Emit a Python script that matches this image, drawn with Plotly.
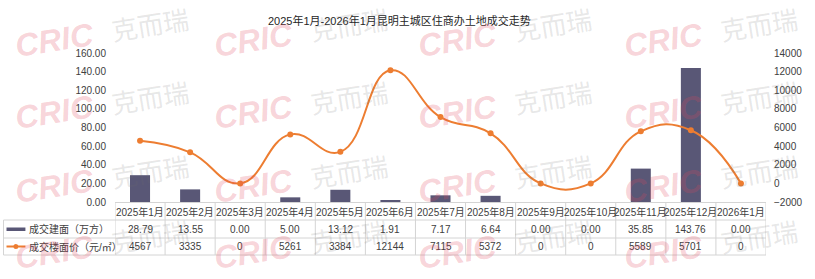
import plotly.graph_objects as go

# ---------------- data ----------------
months = ["2025年1月", "2025年2月", "2025年3月", "2025年4月", "2025年5月", "2025年6月",
          "2025年7月", "2025年8月", "2025年9月", "2025年10月", "2025年11月", "2025年12月", "2026年1月"]
area_values = [28.79, 13.55, 0.00, 5.00, 13.12, 1.91, 7.17, 6.64, 0.00, 0.00, 35.85, 143.76, 0.00]
price_values = [4567, 3335, 0, 5261, 3384, 12144, 7115, 5372, 0, 0, 5589, 5701, 0]
series_names = ["成交建面（万方）", "成交楼面价（元/㎡）"]
title_text = "2025年1月-2026年1月昆明主城区住商办土地成交走势"

# ---------------- layout constants ----------------
W, H = 815, 279
L, R = 115, 769          # plot area x (pixels)
T, B = 53, 202           # plot area y (pixels)
BAR_COLOR = "#595776"
LINE_COLOR = "#ED7D31"
GRID_COLOR = "#D4D4D4"
TEXT_COLOR = "#404040"
FONT = "Liberation Sans, Noto Sans CJK SC, sans-serif"


def px(xp):
    return (xp - L) / (R - L)


def py(yp):
    return (B - yp) / (B - T)


fig = go.Figure()
fig.add_trace(go.Bar(x=list(range(len(months))), y=area_values, name=series_names[0],
                     marker=dict(color=BAR_COLOR, line=dict(width=0)), yaxis="y"))
fig.add_trace(go.Scatter(x=list(range(len(months))), y=price_values, name=series_names[1],
                         mode="lines+markers", yaxis="y2",
                         line=dict(color=LINE_COLOR, width=2, shape="spline", smoothing=1.3),
                         marker=dict(color=LINE_COLOR, size=6)))

shapes = []
annotations = []

# table rows (pixel y)
row_header = (B, 220)
row1 = (220, 238)
row2 = (238, 255)

line_style = dict(color=GRID_COLOR, width=1)
# vertical lines at category boundaries
for i in range(len(months) + 1):
    shapes.append(dict(type="line", xref="x", yref="paper", x0=i - 0.5, x1=i - 0.5,
                       y0=py(B), y1=py(row2[1]), line=line_style))
# horizontal lines
for yy in (row1[0], row2[0], row2[1]):
    shapes.append(dict(type="line", xref="paper", yref="paper", x0=px(3), x1=1,
                       y0=py(yy), y1=py(yy), line=line_style))
# left border
shapes.append(dict(type="line", xref="paper", yref="paper", x0=px(3), x1=px(3),
                   y0=py(row1[0]), y1=py(row2[1]), line=line_style))

# legend keys in the table
shapes.append(dict(type="rect", xref="paper", yref="paper", x0=px(6), x1=px(25),
                   y0=py(231), y1=py(227.5), fillcolor=BAR_COLOR, line=dict(width=0)))
shapes.append(dict(type="line", xref="paper", yref="paper", x0=px(6), x1=px(25),
                   y0=py(246.5), y1=py(246.5), line=dict(color=LINE_COLOR, width=2)))
shapes.append(dict(type="circle", xref="paper", yref="paper", x0=px(13), x1=px(18),
                   y0=py(249), y1=py(244), fillcolor=LINE_COLOR, line=dict(width=0)))

tfont = dict(family=FONT, size=10, color=TEXT_COLOR)
for i, m in enumerate(months):
    annotations.append(dict(x=i, y=py((row_header[0] + row_header[1]) / 2 + 0.5), xref="x", yref="paper",
                            text=m, showarrow=False, font=tfont, xanchor="center", yanchor="middle"))
    annotations.append(dict(x=i, y=py((row1[0] + row1[1]) / 2), xref="x", yref="paper",
                            text=f"{area_values[i]:.2f}", showarrow=False, font=tfont,
                            xanchor="center", yanchor="middle"))
    annotations.append(dict(x=i, y=py((row2[0] + row2[1]) / 2), xref="x", yref="paper",
                            text=f"{price_values[i]:d}", showarrow=False, font=tfont,
                            xanchor="center", yanchor="middle"))
annotations.append(dict(x=px(27), y=py((row1[0] + row1[1]) / 2), xref="paper", yref="paper",
                        text=series_names[0], showarrow=False, font=tfont, xanchor="left", yanchor="middle"))
annotations.append(dict(x=px(27), y=py((row2[0] + row2[1]) / 2), xref="paper", yref="paper",
                        text=series_names[1], showarrow=False, font=tfont, xanchor="left", yanchor="middle"))

# title
annotations.append(dict(x=px(401), y=py(20), xref="paper", yref="paper", text=title_text,
                        showarrow=False, font=dict(family=FONT, size=11, color="#262626"),
                        xanchor="center", yanchor="middle"))

# watermark grid: pink italic "CRIC" + grey "克而瑞", tilted upward (kept inside the picture)
wm_cols = (100, 300, 505, 712)
wm_rows = (32, 104, 178, 244)
for cx in wm_cols:
    for cy in wm_rows:
        annotations.append(dict(x=px(cx - 46), y=py(cy + 8), xref="paper", yref="paper",
                                text="CRIC", showarrow=False, textangle=-9,
                                font=dict(family="Liberation Sans", size=32, weight="bold",
                                          style="italic", color="rgba(226,70,92,0.24)"),
                                xanchor="center", yanchor="middle"))
        annotations.append(dict(x=px(cx + 50), y=py(cy - 8), xref="paper", yref="paper",
                                text="克而瑞", showarrow=False, textangle=-9,
                                font=dict(family="Noto Sans CJK SC", size=26,
                                          color="rgba(110,110,110,0.17)"),
                                xanchor="center", yanchor="middle"))

fig.update_layout(
    width=W, height=H,
    margin=dict(l=L, r=W - R, t=T, b=H - B, pad=0),
    paper_bgcolor="white", plot_bgcolor="white",
    showlegend=False,
    bargap=0.6,
    font=dict(family=FONT, size=10, color=TEXT_COLOR),
    xaxis=dict(range=[-0.5, len(months) - 0.5], showticklabels=False, ticks="",
               showgrid=False, zeroline=False, showline=True, linecolor=GRID_COLOR, linewidth=1),
    yaxis=dict(range=[0, 160], dtick=20, tickformat=".2f", showgrid=False, zeroline=False,
               showline=False, ticks="", ticklabelstandoff=8,
               tickfont=dict(family=FONT, size=10, color=TEXT_COLOR)),
    yaxis2=dict(range=[-2000, 14000], dtick=2000, tickformat="d", overlaying="y", side="right",
                showgrid=False, zeroline=False, showline=False, ticks="", ticklabelstandoff=7,
                tickfont=dict(family=FONT, size=10, color=TEXT_COLOR)),
    shapes=shapes,
    annotations=annotations,
)

fig.write_html("out.html")
